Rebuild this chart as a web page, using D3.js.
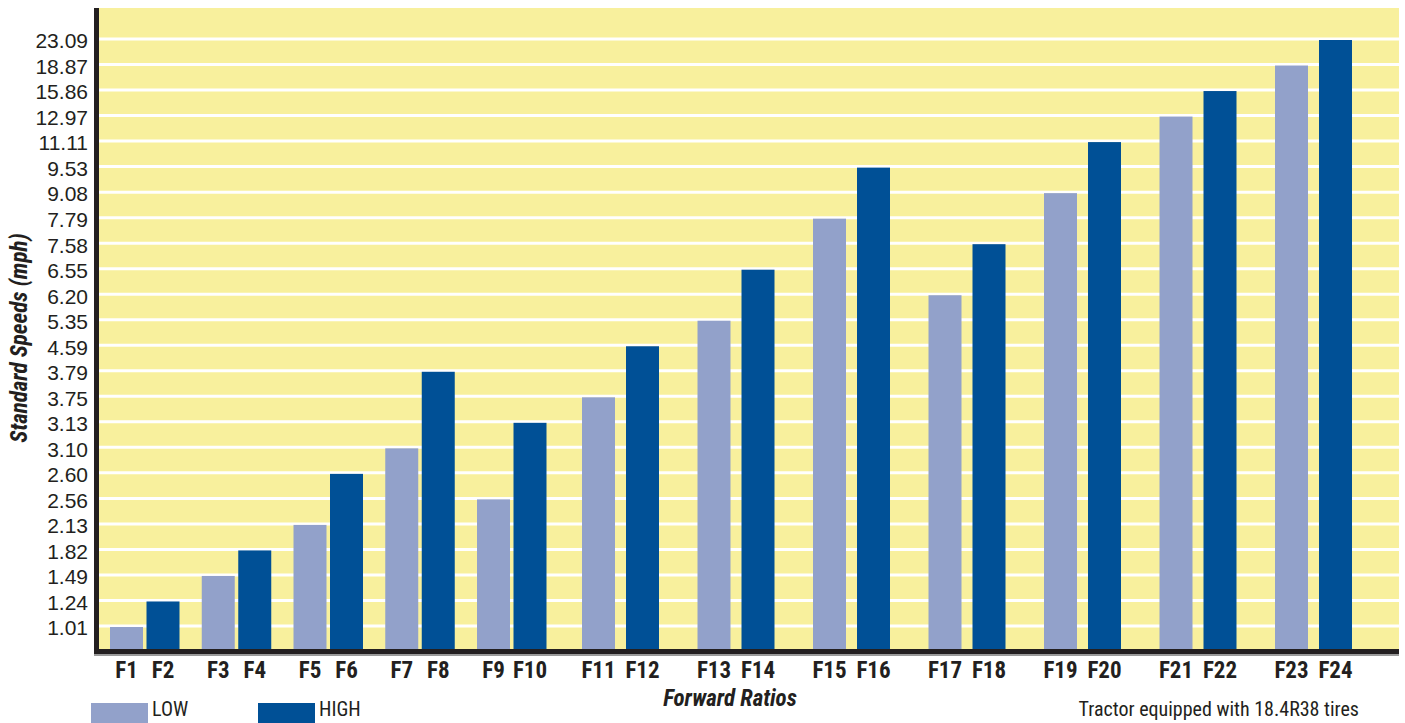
<!DOCTYPE html>
<html><head><meta charset="utf-8">
<script src="https://cdn.jsdelivr.net/npm/d3@7"></script>
<style>
body{margin:0;background:#fff;}
text{font-family:"Liberation Sans Narrow","Roboto Condensed","Liberation Sans",sans-serif;fill:#231f20;}
</style></head>
<body><svg id="c" width="1405" height="723"></svg>
<script>
const groups = ["F1/F2","F3/F4","F5/F6","F7/F8","F9/F10","F11/F12","F13/F14","F15/F16","F17/F18","F19/F20","F21/F22","F23/F24"];
const lowNames  = ["F1","F3","F5","F7","F9","F11","F13","F15","F17","F19","F21","F23"];
const highNames = ["F2","F4","F6","F8","F10","F12","F14","F16","F18","F20","F22","F24"];
const lowValues  = [1.01,1.49,2.13,3.10,2.56,3.75,5.35,7.79,6.20,9.08,12.97,18.87];
const highValues = [1.24,1.82,2.60,3.79,3.13,4.59,6.55,9.53,7.58,11.11,15.86,23.09];
const yTickLabels = ["1.01","1.24","1.49","1.82","2.13","2.56","2.60","3.10","3.13","3.75","3.79","4.59","5.35","6.20","6.55","7.58","7.79","9.08","9.53","11.11","12.97","15.86","18.87","23.09"];
const seriesNames = ["LOW","HIGH"];
const colors = {LOW:"#92a1ca", HIGH:"#005096"};

const svg = d3.select("#c");
const plotL = 99, plotR = 1399, plotT = 8, plotB = 649;

// y: categorical (each tick is one of the bar values, evenly spaced)
const y = d3.scalePoint().domain(yTickLabels).range([626, 39]);
// x: group start positions (two spacing regimes as in the reference)
const gx = d3.scaleLinear().domain([0,4,5,11]).range([110,477,582,1275]);
const pairOffset = d3.scaleThreshold().domain([5]).range([36.5,44]);
const barW = 33;

svg.append("rect").attr("x",plotL).attr("y",plotT).attr("width",plotR-plotL).attr("height",plotB-plotT).attr("fill","#f8f09d");

// gridlines
svg.append("g").selectAll("line").data(yTickLabels).join("line")
  .attr("x1",plotL).attr("x2",plotR)
  .attr("y1",d=>y(d)).attr("y2",d=>y(d))
  .attr("stroke","#fff").attr("stroke-width",3);

// y axis labels via d3 axis
const yAxis = svg.append("g").attr("transform",`translate(${plotL-11},0)`)
  .call(d3.axisLeft(y).tickSize(0).tickPadding(0));
yAxis.select(".domain").remove();
yAxis.selectAll("text").attr("font-size",21).attr("dy","0.42em")
  .style("font-family","'Liberation Sans Narrow','Liberation Sans',sans-serif").attr("fill","#231f20");

// bars
const bars = [];
groups.forEach((g,i)=>{
  bars.push({name:lowNames[i], s:"LOW", v:lowValues[i], x:gx(i)});
  bars.push({name:highNames[i], s:"HIGH", v:highValues[i], x:gx(i)+pairOffset(i)});
});
svg.append("g").selectAll("rect").data(bars).join("rect")
  .attr("x",d=>d.x).attr("width",barW)
  .attr("y",d=>y(d.v.toFixed(2))+1)
  .attr("height",d=>plotB-(y(d.v.toFixed(2))+1))
  .attr("fill",d=>colors[d.s]);

// x labels
svg.append("g").selectAll("text").data(bars).join("text")
  .attr("x",d=>d.x+barW/2).attr("y",678)
  .attr("text-anchor","middle").attr("font-size",23).attr("font-weight","bold")
  .text(d=>d.name);

// axes lines
svg.append("line").attr("x1",96.5).attr("x2",96.5).attr("y1",plotT).attr("y2",654).attr("stroke","#231f20").attr("stroke-width",5);
svg.append("line").attr("x1",94).attr("x2",plotR).attr("y1",651.5).attr("y2",651.5).attr("stroke","#231f20").attr("stroke-width",5);
svg.append("line").attr("x1",94).attr("x2",plotR).attr("y1",655).attr("y2",655).attr("stroke","#9a9a9a").attr("stroke-width",2);

// titles
svg.append("text").attr("transform","translate(27,338) rotate(-90)")
  .attr("text-anchor","middle").attr("font-size",23).attr("font-weight","bold").attr("font-style","italic")
  .text("Standard Speeds (mph)");
svg.append("text").attr("x",730).attr("y",706)
  .attr("text-anchor","middle").attr("font-size",23).attr("font-weight","bold").attr("font-style","italic")
  .text("Forward Ratios");

// legend
const lg = svg.append("g");
const legX = [91,258];
seriesNames.forEach((s,i)=>{
  lg.append("rect").attr("x",legX[i]).attr("y",703).attr("width",57).attr("height",22).attr("fill",colors[s]);
  lg.append("text").attr("x",legX[i]+61).attr("y",716).attr("font-size",20).text(s);
});
svg.append("text").attr("x",1359).attr("y",716).attr("text-anchor","end").attr("font-size",20)
  .text("Tractor equipped with 18.4R38 tires");
</script></body></html>
